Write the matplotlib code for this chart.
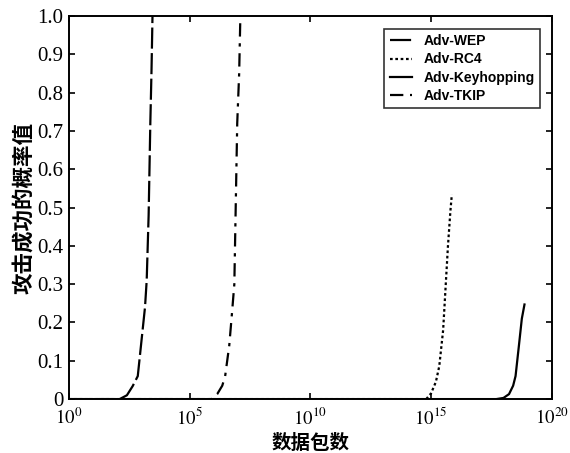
import matplotlib
matplotlib.use('Agg')
import matplotlib.pyplot as plt
from matplotlib.ticker import FixedLocator, NullLocator

plt.rcParams['font.family'] = ['Liberation Serif', 'DejaVu Serif']
plt.rcParams['mathtext.fontset'] = 'stix'

# log10(数据包数) 与 攻击成功的概率值
wep_logx = [0, 2.1, 2.4, 2.64, 2.85, 2.95, 3.05, 3.15, 3.22, 3.3, 3.37, 3.42, 3.46]
wep_y = [0, 0, 0.01, 0.034, 0.06, 0.12, 0.18, 0.24, 0.31, 0.48, 0.72, 0.86, 1.0]

rc4_logx = [0, 14.8, 15.0, 15.2, 15.34, 15.5, 15.6, 15.7, 15.8, 15.86]
rc4_y = [0, 0, 0.015, 0.045, 0.086, 0.18, 0.29, 0.40, 0.49, 0.534]

key_logx = [0, 17.7, 18.0, 18.23, 18.4, 18.5, 18.64, 18.76, 18.87]
key_y = [0, 0, 0.003, 0.013, 0.035, 0.06, 0.14, 0.21, 0.247]

tkip_logx = [0, 5.9, 6.14, 6.35, 6.47, 6.64, 6.76, 6.85, 6.97, 7.05, 7.1]
tkip_y = [0, 0, 0.013, 0.035, 0.06, 0.14, 0.23, 0.30, 0.72, 0.85, 1.0]

labels = ['Adv-WEP', 'Adv-RC4', 'Adv-Keyhopping', 'Adv-TKIP']

fig = plt.figure(figsize=(5.7, 4.53), dpi=100)
ax = fig.add_axes([0.121, 0.119, 0.847, 0.8455])

ax.plot([10 ** v for v in wep_logx], wep_y, color='black', lw=1.6,
        linestyle=(0, (9.5, 2)), label=labels[0])
ax.plot([10 ** v for v in rc4_logx], rc4_y, color='black', lw=1.6,
        linestyle=(0, (1.2, 1.2)), label=labels[1])
ax.plot([10 ** v for v in key_logx], key_y, color='black', lw=1.6,
        linestyle='-', label=labels[2])
ax.plot([10 ** v for v in tkip_logx], tkip_y, color='black', lw=1.6,
        linestyle=(0, (6, 3, 1.5, 3)), label=labels[3])

ax.set_xscale('log')
ax.set_xlim(1, 1e20)
ax.set_ylim(0, 1)

ax.xaxis.set_major_locator(FixedLocator([1, 1e5, 1e10, 1e15, 1e20]))
ax.xaxis.set_minor_locator(NullLocator())
ax.set_xticklabels([r'$10^{0}$', r'$10^{5}$', r'$10^{10}$', r'$10^{15}$', r'$10^{20}$'])
yt = [i / 10 for i in range(11)]
ax.set_yticks(yt)
ax.set_yticklabels(['0'] + ['%.1f' % v for v in yt[1:]])

ax.tick_params(direction='in', top=True, right=True, length=4, width=1.2, pad=4)
ax.tick_params(axis='y', labelsize=15)
ax.tick_params(axis='x', labelsize=13.5, pad=6)
for s in ax.spines.values():
    s.set_linewidth(1.4)

cjk = ['Noto Sans CJK SC', 'DejaVu Sans']
ax.set_xlabel('数据包数', family=cjk, fontweight='bold', fontsize=14, labelpad=4)
ax.set_ylabel('攻击成功的概率值', family=cjk, fontweight='bold', fontsize=15.5, labelpad=2)

leg = ax.legend(loc='upper right', bbox_to_anchor=(0.99, 0.985),
                prop={'family': 'Liberation Sans', 'size': 10, 'weight': 'bold'},
                frameon=True, fancybox=False, edgecolor='black',
                handlelength=1.6, borderpad=0.4, labelspacing=0.3)
leg.get_frame().set_linewidth(1.2)

fig.savefig('out.png', dpi=100)
